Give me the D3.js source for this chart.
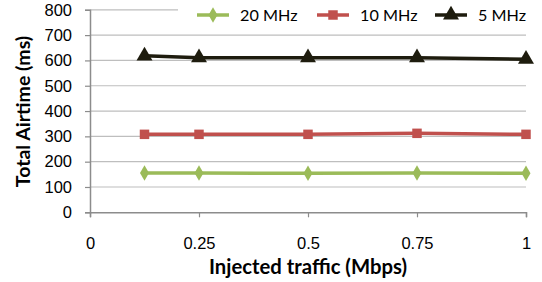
<!DOCTYPE html>
<html><head><meta charset="utf-8">
<script src="https://cdn.jsdelivr.net/npm/d3@7"></script>
<style>body{margin:0;background:#fff;} svg{display:block;font-family:Lato,"Open Sans","Liberation Sans",sans-serif;}</style>
</head><body>
<svg id="c" width="542" height="282"></svg>
<script>
const xValues = [0.125, 0.25, 0.5, 0.75, 1];
const s20 = [155, 155, 154, 155, 154];
const s10 = [308, 308, 308, 312, 308];
const s5 = [618, 611, 611, 611, 605];
const seriesNames = ["20 MHz", "10 MHz", "5 MHz"];
const xTicks = [0, 0.25, 0.5, 0.75, 1];
const xTickLabels = ["0", "0.25", "0.5", "0.75", "1"];
const yTicks = [0, 100, 200, 300, 400, 500, 600, 700, 800];

const series = [
  {name: seriesNames[0], values: s20, color: "#9BBB59", shape: "diamond"},
  {name: seriesNames[1], values: s10, color: "#C0504D", shape: "square"},
  {name: seriesNames[2], values: s5, color: "#1E1C0E", shape: "triangle"}
];

const svg = d3.select("#c");
const x = d3.scaleLinear().domain([0, 1]).range([90, 526]);
const y = d3.scaleLinear().domain([0, 800]).range([212.3, 9.8]);

// gridlines
svg.append("g").selectAll("line").data(yTicks.filter(d => d > 0)).join("line")
  .attr("x1", x(0)).attr("x2", x(1))
  .attr("y1", d => y(d)).attr("y2", d => y(d))
  .attr("stroke", "#BEBEBE").attr("stroke-width", 1.2);

// y axis
const ya = svg.append("g").attr("transform", `translate(${x(0)},0)`)
  .call(d3.axisLeft(y).tickValues(yTicks).tickSize(5).tickPadding(13));
ya.select(".domain").attr("stroke", "#8C8C8C").attr("stroke-width", 1.5);
ya.selectAll(".tick line").attr("stroke", "#8C8C8C").attr("stroke-width", 1.2);
ya.selectAll("text").attr("font-size", 16.5).attr("fill", "#000").attr("font-family", null);

// x axis
const xa = svg.append("g").attr("transform", `translate(0,${y(0)})`)
  .call(d3.axisBottom(x).tickValues(xTicks).tickFormat((d, i) => xTickLabels[i]).tickSize(5).tickPadding(20));
xa.select(".domain").attr("stroke", "#8C8C8C").attr("stroke-width", 1.5);
xa.selectAll(".tick line").attr("stroke", "#8C8C8C").attr("stroke-width", 1.2);
xa.selectAll("text").attr("font-size", 16.5).attr("fill", "#000").attr("font-family", null);

// axis titles
svg.append("text").attr("x", 308).attr("y", 274).attr("text-anchor", "middle")
  .attr("font-size", 20.3).attr("font-weight", "bold").text("Injected traffic (Mbps)");
svg.append("text").attr("transform", "translate(30,111.5) rotate(-90)").attr("text-anchor", "middle")
  .attr("font-size", 19.5).attr("font-weight", "bold").text("Total Airtime (ms)");

const symType = {diamond: d3.symbolDiamond, square: d3.symbolSquare, triangle: d3.symbolTriangle};
const symSize = {diamond: 70, square: 90, triangle: 110};

const line = d3.line().x(d => x(d[0])).y(d => y(d[1]));
series.forEach(s => {
  const pts = xValues.map((v, i) => [v, s.values[i]]);
  svg.append("path").datum(pts).attr("d", line).attr("fill", "none")
    .attr("stroke", s.color).attr("stroke-width", 3.5);
  svg.append("g").selectAll("path").data(pts).join("path")
    .attr("transform", d => `translate(${x(d[0])},${y(d[1])})`)
    .attr("d", d3.symbol().type(symType[s.shape]).size(symSize[s.shape]))
    .attr("fill", s.color);
});

// legend
const lg = svg.append("g");
lg.append("rect").attr("x", 178).attr("y", 0).attr("width", 364).attr("height", 28).attr("fill", "#fff");
const legX = [197, 317, 435];
series.forEach((s, i) => {
  const g = lg.append("g").attr("transform", `translate(${legX[i]},15)`);
  g.append("line").attr("x1", 0).attr("x2", 32).attr("y1", 0).attr("y2", 0)
    .attr("stroke", s.color).attr("stroke-width", 3.5);
  g.append("path").attr("transform", "translate(16,0)")
    .attr("d", d3.symbol().type(symType[s.shape]).size(symSize[s.shape])).attr("fill", s.color);
  g.append("text").attr("x", 43).attr("y", 6).attr("font-size", 16.2).text(s.name);
});
</script>
</body></html>
